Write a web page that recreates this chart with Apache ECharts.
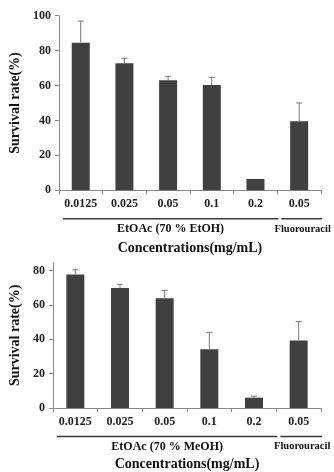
<!DOCTYPE html>
<html>
<head>
<meta charset="utf-8">
<script src="https://cdn.jsdelivr.net/npm/echarts@6/dist/echarts.min.js"></script>
<style>
html,body{margin:0;padding:0;background:#fff;}
#chart{width:334px;height:472px;}
</style>
</head>
<body>
<div id="chart"></div>
<script>
var categories = ['0.0125', '0.025', '0.05', '0.1', '0.2', '0.05 '];
var etohValues = [84.5, 72.7, 63.1, 60.3, 6.5, 39.5];
var etohErrors = [12.4, 2.9, 2.2, 4.4, 0, 10.5];
var meohValues = [77.7, 69.8, 63.8, 34.1, 6.0, 39.3];
var meohErrors = [2.7, 2.1, 4.6, 9.9, 0.9, 11.0];
var topYTicks = [0, 20, 40, 60, 80, 100];
var bottomYTicks = [0, 20, 40, 60, 80];
var topGroups = ['EtOAc (70 % EtOH)', 'Fluorouracil'];
var bottomGroups = ['EtOAc (70 % MeOH)', 'Fluorouracil'];
var axisTitleX = 'Concentrations(mg/mL)';
var axisTitleY = 'Survival rate(%)';

var FONT = '"Liberation Serif", "Times New Roman", serif';
var BAR_COLOR = '#404040';
var AXIS_COLOR = '#8a8a8a';

var chart = echarts.init(document.getElementById('chart'), null, {renderer: 'canvas'});

function xAxisCfg(gridIndex, gap) {
  return {
    type: 'category', gridIndex: gridIndex, data: categories,
    axisLine: {lineStyle: {color: AXIS_COLOR, width: 1}},
    axisTick: {show: true, length: 4, lineStyle: {color: AXIS_COLOR}},
    axisLabel: {color: '#222', fontFamily: FONT, fontWeight: 'bold', fontSize: 12, margin: 8,
      formatter: function (v) { return v.trim(); }},
    name: axisTitleX, nameLocation: 'middle', nameGap: gap,
    nameTextStyle: {color: '#111', fontFamily: FONT, fontWeight: 'bold', fontSize: 14, verticalAlign: 'top'}
  };
}
function yAxisCfg(gridIndex, max, ticks) {
  return {
    type: 'value', gridIndex: gridIndex, min: 0, max: max, interval: 20,
    splitLine: {show: false},
    axisLine: {show: true, lineStyle: {color: AXIS_COLOR, width: 1}},
    axisTick: {show: true, length: 4, lineStyle: {color: AXIS_COLOR}, customValues: ticks},
    axisLabel: {color: '#222', fontFamily: FONT, fontWeight: 'bold', fontSize: 12, margin: 8,
      customValues: ticks,
      formatter: function (v) { return (v % 20 === 0) ? String(v) : ''; }},
    name: axisTitleY, nameLocation: 'middle', nameGap: 31, nameRotate: 90,
    nameTextStyle: {color: '#111', fontFamily: FONT, fontWeight: 'bold', fontSize: 14}
  };
}
function errSeries(xi, yi, vals, errs) {
  return {
    type: 'custom', xAxisIndex: xi, yAxisIndex: yi, z: 3,
    data: vals.map(function (v, i) { return [i, v, errs[i]]; }),
    renderItem: function (params, api) {
      var i = api.value(0), v = api.value(1), e = api.value(2);
      if (!e) return null;
      var p0 = api.coord([i, v]);
      var p1 = api.coord([i, v + e]);
      return {type: 'group', children: [
        {type: 'line', shape: {x1: p0[0], y1: p0[1], x2: p1[0], y2: p1[1]}, style: {stroke: '#7a7a7a', lineWidth: 1}},
        {type: 'line', shape: {x1: p1[0] - 3, y1: p1[1], x2: p1[0] + 3, y2: p1[1]}, style: {stroke: '#7a7a7a', lineWidth: 1}}
      ]};
    }
  };
}

chart.setOption({
  animation: false,
  backgroundColor: '#fff',
  grid: [
    {left: 45.7, top: 15.7, width: 275.3, height: 174.6},
    {left: 45.7, top: 262.7, width: 275.3, height: 149.6}
  ],
  xAxis: [xAxisCfg(0, 51), xAxisCfg(1, 49)],
  yAxis: [yAxisCfg(0, 100, topYTicks), yAxisCfg(1, 84.5, bottomYTicks)],
  series: [
    {type: 'bar', xAxisIndex: 0, yAxisIndex: 0, data: etohValues, barWidth: 18,
      itemStyle: {color: BAR_COLOR}},
    errSeries(0, 0, etohValues, etohErrors),
    {type: 'bar', xAxisIndex: 1, yAxisIndex: 1, data: meohValues, barWidth: 18,
      itemStyle: {color: BAR_COLOR}},
    errSeries(1, 1, meohValues, meohErrors)
  ]
});

function groupGraphics(xi, yi, groups) {
  var c0 = chart.convertToPixel({xAxisIndex: xi}, 0);
  var c1 = chart.convertToPixel({xAxisIndex: xi}, 1);
  var w = c1 - c0;
  var b0 = c0 - w / 2;
  var b5 = b0 + 5 * w;
  var b6 = b0 + 6 * w;
  var axisY = chart.convertToPixel({yAxisIndex: yi}, 0);
  var lineY = axisY + 28.5;
  var textY = axisY + 38.7;
  var st = {stroke: '#3a3a3a', lineWidth: 1.6};
  var ts = {fill: '#111', font: 'bold 12px ' + FONT, textAlign: 'center', textVerticalAlign: 'middle'};
  var ts2 = {fill: '#111', font: 'bold 10.5px ' + FONT, textAlign: 'center', textVerticalAlign: 'middle'};
  return [
    {type: 'line', shape: {x1: b0 + 4, y1: lineY, x2: b5 + 1, y2: lineY}, style: st},
    {type: 'line', shape: {x1: b5 + 4, y1: lineY, x2: b6 + 1, y2: lineY}, style: st},
    {type: 'text', x: (b0 + 4 + b5 + 1) / 2, y: textY, style: Object.assign({text: groups[0]}, ts)},
    {type: 'text', x: (b5 + 4 + b6 + 1) / 2 + 1, y: textY, style: Object.assign({text: groups[1]}, ts2)}
  ];
}
chart.setOption({graphic: groupGraphics(0, 0, topGroups).concat(groupGraphics(1, 1, bottomGroups))});
</script>
</body>
</html>
